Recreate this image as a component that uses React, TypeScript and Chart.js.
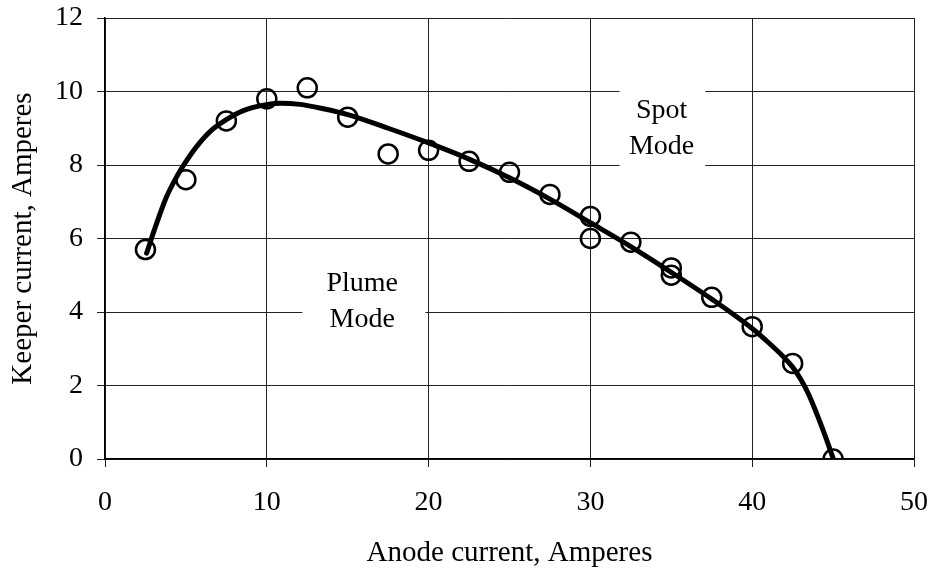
import React, { useEffect, useRef } from "react";
import { Chart, registerables } from "chart.js";

Chart.register(...registerables);

// Measured data points (anode current, keeper current)
const anodeCurrent = [2.5, 5, 7.5, 10, 12.5, 15, 17.5, 20, 22.5, 25, 27.5, 30, 30, 32.5, 35, 35, 37.5, 40, 42.5, 45];
const keeperCurrent = [5.7, 7.6, 9.2, 9.8, 10.1, 9.3, 8.3, 8.4, 8.1, 7.8, 7.2, 6.6, 6.0, 5.9, 5.2, 5.0, 4.4, 3.6, 2.6, 0.0];

// Fitted curve
const fitAnode = [2.57, 3.19, 3.81, 4.43, 4.94, 5.66, 6.49, 7.52, 8.55, 9.79, 10.8, 12.05, 13.5, 15, 17.5, 20, 22.5, 25, 27.5, 30, 32.5, 35, 37.5, 40, 41, 42, 42.5, 43, 43.5, 44, 44.5, 45];
const fitKeeper = [5.6, 6.41, 7.14, 7.68, 8.05, 8.5, 8.91, 9.24, 9.48, 9.63, 9.68, 9.65, 9.53, 9.37, 9.0, 8.6, 8.16, 7.65, 7.07, 6.43, 5.78, 5.08, 4.35, 3.55, 3.17, 2.75, 2.5, 2.17, 1.75, 1.22, 0.64, 0.02];

const xTitle = "Anode current, Amperes";
const yTitle = "Keeper current, Amperes";
const modeLabels = [
  { lines: ["Spot", "Mode"], x: 34.4, y: 9.0, x0: 31.8, x1: 37.1, y0: 7.8, y1: 10.2 },
  { lines: ["Plume", "Mode"], x: 15.9, y: 4.28, x0: 12.2, x1: 19.8, y0: 3.25, y1: 5.35 },
];

const FONT = "'Liberation Serif', 'Times New Roman', serif";

const modeLabelPlugin = {
  id: "modeLabels",
  beforeDatasetsDraw(chart: any) {
    const { ctx, scales } = chart;
    const xs = scales.x;
    const ys = scales.y;
    ctx.save();
    for (const lab of modeLabels) {
      const l = xs.getPixelForValue(lab.x0);
      const r = xs.getPixelForValue(lab.x1);
      const t = ys.getPixelForValue(lab.y1);
      const b = ys.getPixelForValue(lab.y0);
      ctx.fillStyle = "#fff";
      ctx.fillRect(l, t, r - l, b - t);
      ctx.fillStyle = "#000";
      ctx.font = `28px ${FONT}`;
      ctx.textAlign = "center";
      ctx.textBaseline = "middle";
      const cx = xs.getPixelForValue(lab.x);
      const cy = ys.getPixelForValue(lab.y);
      const lh = 36;
      lab.lines.forEach((s, i) => {
        ctx.fillText(s, cx, cy + (i - (lab.lines.length - 1) / 2) * lh);
      });
    }
    ctx.restore();
  },
};

export default function App() {
  const ref = useRef<HTMLCanvasElement | null>(null);
  useEffect(() => {
    if (!ref.current) return;
    const chart = new Chart(ref.current, {
      type: "scatter",
      data: {
        datasets: [
          {
            type: "line",
            label: "fit",
            data: fitAnode.map((x, i) => ({ x, y: fitKeeper[i] })),
            borderColor: "#000",
            borderWidth: 5,
            pointRadius: 0,
            fill: false,
            cubicInterpolationMode: "monotone",
            borderCapStyle: "round",
            borderJoinStyle: "round",
            order: 0,
          } as any,
          {
            label: "data",
            data: anodeCurrent.map((x, i) => ({ x, y: keeperCurrent[i] })),
            pointRadius: 9.5,
            pointHoverRadius: 9.5,
            pointBorderWidth: 2.5,
            borderColor: "#000",
            backgroundColor: "rgba(0,0,0,0)",
            pointBackgroundColor: "rgba(0,0,0,0)",
            order: 1,
          },
        ],
      },
      options: {
        responsive: false,
        animation: false,
        events: [],
        layout: { padding: { top: 18, right: 20, left: 0, bottom: 0 } },
        plugins: { legend: { display: false }, tooltip: { enabled: false } },
        scales: {
          x: {
            type: "linear",
            min: 0,
            max: 50,
            ticks: { stepSize: 10, color: "#000", font: { family: FONT, size: 28 }, padding: 19, maxRotation: 0 },
            grid: { color: "#222", lineWidth: 1, tickLength: 8, drawTicks: true },
            border: { color: "#000", width: 1.5 },
            title: { display: true, text: xTitle, color: "#000", font: { family: FONT, size: 29 }, padding: { top: 0, bottom: 2 } },
            afterFit: (s: any) => { s.height = 114; s.paddingLeft = 0; s.paddingRight = 0; },
          },
          y: {
            type: "linear",
            min: 0,
            max: 12,
            ticks: { stepSize: 2, color: "#000", font: { family: FONT, size: 28 }, padding: 14 },
            grid: { color: "#222", lineWidth: 1, tickLength: 8, drawTicks: true },
            border: { color: "#000", width: 1.5 },
            title: { display: true, text: yTitle, color: "#000", font: { family: FONT, size: 29 }, padding: { top: 6, bottom: 0 } },
            afterFit: (s: any) => { s.width = 105; s.paddingTop = 0; s.paddingBottom = 0; },
          },
        },
      },
      plugins: [modeLabelPlugin],
    });
    return () => chart.destroy();
  }, []);
  return (
    <div style={{ position: "fixed", left: 0, top: 0, width: 934, height: 573, background: "#fff" }}>
      <canvas ref={ref} width={934} height={573} style={{ display: "block" }} />
    </div>
  );
}
